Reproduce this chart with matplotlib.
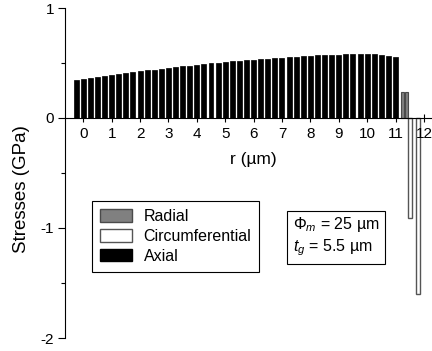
import numpy as np
import matplotlib
matplotlib.use("Agg")
import matplotlib.pyplot as plt
from matplotlib.patches import Patch
from matplotlib.ticker import MultipleLocator

plt.rcParams['font.family'] = ['Liberation Sans', 'DejaVu Sans']
plt.rcParams['font.size'] = 11
plt.rcParams['mathtext.fontset'] = 'custom'
plt.rcParams['mathtext.rm'] = 'Liberation Sans'
plt.rcParams['mathtext.it'] = 'Liberation Sans:italic'

# Axial stress (black bars), r from -0.25 to 11 um
axial_r = [-0.25, 0, 0.25, 0.5, 0.75, 1, 1.25, 1.5, 1.75, 2, 2.25, 2.5, 2.75, 3,
           3.25, 3.5, 3.75, 4, 4.25, 4.5, 4.75, 5, 5.25, 5.5, 5.75, 6, 6.25, 6.5,
           6.75, 7, 7.25, 7.5, 7.75, 8, 8.25, 8.5, 8.75, 9, 9.25, 9.5, 9.75, 10,
           10.25, 10.5, 10.75, 11]
axial_val = [0.348, 0.356, 0.365, 0.373, 0.382, 0.390, 0.399, 0.407, 0.416, 0.424,
             0.432, 0.439, 0.447, 0.454, 0.462, 0.470, 0.477, 0.485, 0.491, 0.497,
             0.502, 0.508, 0.514, 0.520, 0.525, 0.530, 0.535, 0.540, 0.545, 0.548,
             0.552, 0.556, 0.561, 0.566, 0.569, 0.572, 0.575, 0.577, 0.578, 0.579,
             0.580, 0.580, 0.578, 0.573, 0.566, 0.556]

# Radial stress (gray bars)
radial_r = [11.25, 11.39]
radial_val = [0.24, 0.233]

# Circumferential stress (white bars)
circ_r = [11.52, 11.78]
circ_val = [-0.91, -1.60]

xticks = list(range(0, 13))
yticks = [-2, -1, 0, 1]
ytick_labels = ['-2', '-1', '0', '1']

fig = plt.figure(figsize=(4.32, 3.51), dpi=100)
ax = fig.add_axes([65/432, 1-338/351, 366/432, 330/351])

ax.bar(axial_r, axial_val, width=0.175, color='black', edgecolor='black', linewidth=0.5, zorder=1)
ax.bar(radial_r, radial_val, width=0.115, color='#808080', edgecolor='#4a4a4a', linewidth=0.8, zorder=1)
ax.bar(circ_r, circ_val, width=0.15, color='white', edgecolor='#555555', linewidth=1.0, zorder=1)
ax.set_axisbelow(False)

ax.set_xlim(-0.644, 12.25)
ax.set_ylim(-2, 1)

ax.spines['top'].set_visible(False)
ax.spines['right'].set_visible(False)
ax.spines['bottom'].set_position(('data', 0))
ax.spines['left'].set_linewidth(0.8)
ax.spines['bottom'].set_linewidth(0.8)

ax.set_xticks(xticks)
ax.set_xticklabels([str(t) for t in xticks])
ax.set_yticks(yticks)
ax.set_yticklabels(ytick_labels)
ax.yaxis.set_minor_locator(MultipleLocator(0.5))
ax.tick_params(axis='x', direction='inout', length=5.3, width=0.8, pad=3.5, labelsize=11)
ax.tick_params(axis='y', which='major', direction='out', length=4.8, width=0.8, pad=3, labelsize=11)
ax.tick_params(axis='y', which='minor', direction='out', length=3.1, width=0.8)

ax.set_ylabel('Stresses (GPa)', fontsize=13.5)
ax.yaxis.set_label_coords(-0.095, 0.45)
ax.text((253-65)/366, (338-160)/330, 'r (µm)', transform=ax.transAxes,
        ha='center', va='center', fontsize=12.5)

handles = [Patch(facecolor='#808080', edgecolor='#4a4a4a', label='Radial'),
           Patch(facecolor='white', edgecolor='#555555', label='Circumferential'),
           Patch(facecolor='black', edgecolor='black', label='Axial')]
leg = ax.legend(handles=handles, loc='upper left', bbox_to_anchor=(91.7/432, 1-201/351),
                bbox_transform=fig.transFigure, fancybox=False, framealpha=1,
                edgecolor='black', handlelength=2.05, handleheight=0.85,
                borderpad=0.5, labelspacing=0.3, handletextpad=0.7, fontsize=11.5,
                borderaxespad=0)
leg.get_frame().set_linewidth(0.8)
leg._legend_box.align = 'left'

ax.text(293/432, 1-236.5/351, '$\\Phi_m$ = 25 µm\n$t_g$ = 5.5 µm',
        transform=fig.transFigure, ha='left', va='center', fontsize=11.5, linespacing=1.3,
        bbox=dict(boxstyle='square,pad=0.35', facecolor='white', edgecolor='black', linewidth=0.8))

fig.savefig('out.png', dpi=100)
